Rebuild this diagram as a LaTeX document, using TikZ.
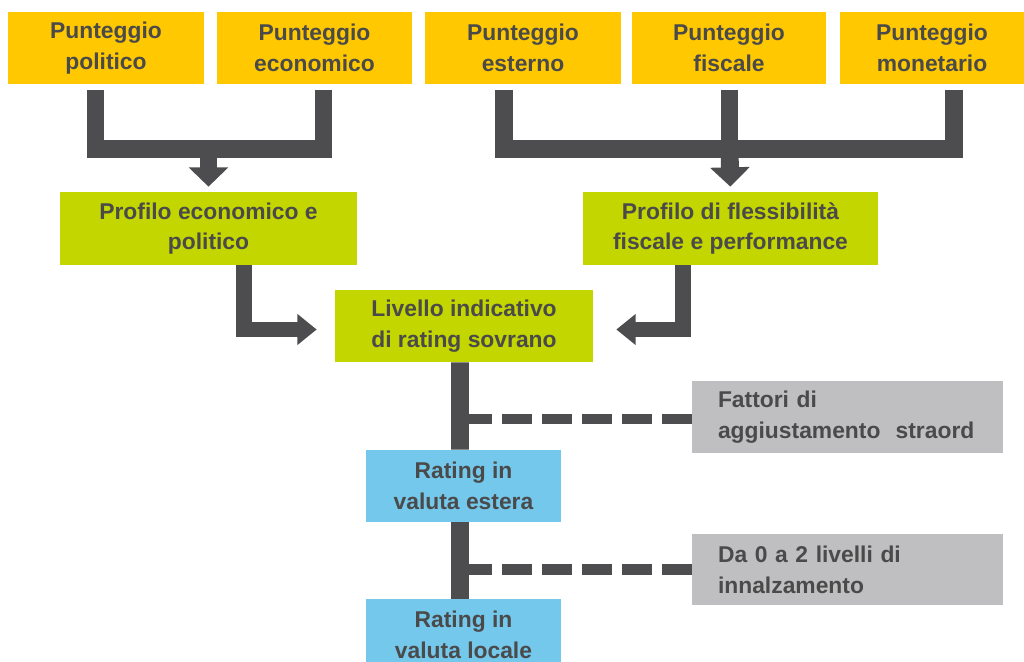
\documentclass[tikz,border=0pt]{standalone}
\usepackage{fontspec}
\setmainfont{Liberation Sans}
\usetikzlibrary{arrows.meta}
\definecolor{colPunt}{HTML}{FFC800}
\definecolor{colProf}{HTML}{C4D600}
\definecolor{colRating}{HTML}{74C8EC}
\definecolor{colFattori}{HTML}{BFBFC1}
\definecolor{colBarra}{HTML}{4D4D4F}
\definecolor{colTesto}{HTML}{4A4A4A}
\tikzset{
	box/.style={minimum height=1.44cm, inner sep=0pt, align=center, text=colTesto, font=\fontsize{13}{17.5}\selectfont\bfseries},
	punt/.style={box, fill=colPunt, minimum width=3.92cm},
	profilo/.style={box, fill=colProf, minimum height=1.46cm},
	rating/.style={box, fill=colRating, minimum width=3.9cm},
	fattori/.style={box, fill=colFattori, align=left, text width=5.18cm, inner xsep=0.52cm},
	barra/.style={draw=colBarra, line width=10.2pt, line join=miter},
	freccia/.style={barra, -{Triangle[width=22pt,length=11pt]}, shorten >=0.1cm},
	laterale/.style={draw=colBarra, line width=9pt, line join=miter, -{Triangle[width=17pt,length=11pt]}},
	tratteggio/.style={draw=colBarra, line width=6.2pt, dash pattern=on 0.6cm off 0.2cm}
}

\begin{document}
\begin{tikzpicture}[x=0.02cm, y=-0.02cm]
	\useasboundingbox (0,0) rectangle (1024,662);
	
	\node[punt] (pPol) at (106,48) {Punteggio\\politico};
	\node[punt, minimum width=3.9cm] (pEco) at (314.5,48) {Punteggio\\economico};
	\node[punt] (pEst) at (523,48) {Punteggio\\esterno};
	\node[punt, minimum width=3.9cm] (pFis) at (729,48) {Punteggio\\fiscale};
	\node[punt, minimum width=3.68cm] (pMon) at (932,48) {Punteggio\\monetario};
	
	\node[profilo, minimum width=5.94cm] (profEco) at (208.5,228.5) {Profilo economico e\\politico};
	\node[profilo, minimum width=5.9cm] (profFis) at (730.5,228.5) {Profilo di flessibilit\`a\\fiscale e performance};
	\node[box, fill=colProf, minimum width=5.16cm] (livello) at (464,326) {Livello indicativo\\di rating sovrano};
	
	\node[rating] (rEstera) at (463.5,486) {Rating in\\valuta estera};
	\node[rating] (rLocale) at (463.5,635) {Rating in\\valuta locale};
	\node[fattori] (fStraord) at (847.5,417) {Fattori di\\aggiustamento\ \ straord};
	\node[fattori] (fLivelli) at (847.5,569.5) {Da 0 a 2 livelli di\\innalzamento};
	
	\coordinate (a1) at (95.5,90); \coordinate (a2) at (323.5,90); \coordinate (aj) at (208.5,149);
	\draw[barra] (a1) |- (aj) -| (a2);
	\draw[freccia] (aj) -- (profEco.north);
	
	\coordinate (b1) at (504,90); \coordinate (b2) at (729.5,90); \coordinate (b3) at (954,90); \coordinate (bj) at (729.5,149);
	\draw[barra] (b1) |- (bj) -| (b3); \draw[barra] (b2) -- (bj);
	\draw[freccia] (bj) -- (profFis.north);
	
	\draw[laterale] ([xshift=0.71cm]profEco.south) |- ([xshift=-0.36cm,yshift=-0.07cm]livello.west);
	\draw[laterale] ([xshift=-0.95cm]profFis.south) |- ([xshift=0.46cm,yshift=-0.07cm]livello.east);
	
	\draw[barra] ([xshift=-0.08cm]livello.south) -- ([xshift=-0.07cm]rEstera.north);
	\draw[barra] ([xshift=-0.07cm]rEstera.south) -- ([xshift=-0.07cm]rLocale.north);
	\draw[tratteggio] ([yshift=-0.04cm]fStraord.west) -- ([yshift=-0.04cm]fStraord.west -| rEstera.north);
	\draw[tratteggio] (fLivelli.west) -- (fLivelli.west -| rEstera.north);
\end{tikzpicture}
\end{document}
